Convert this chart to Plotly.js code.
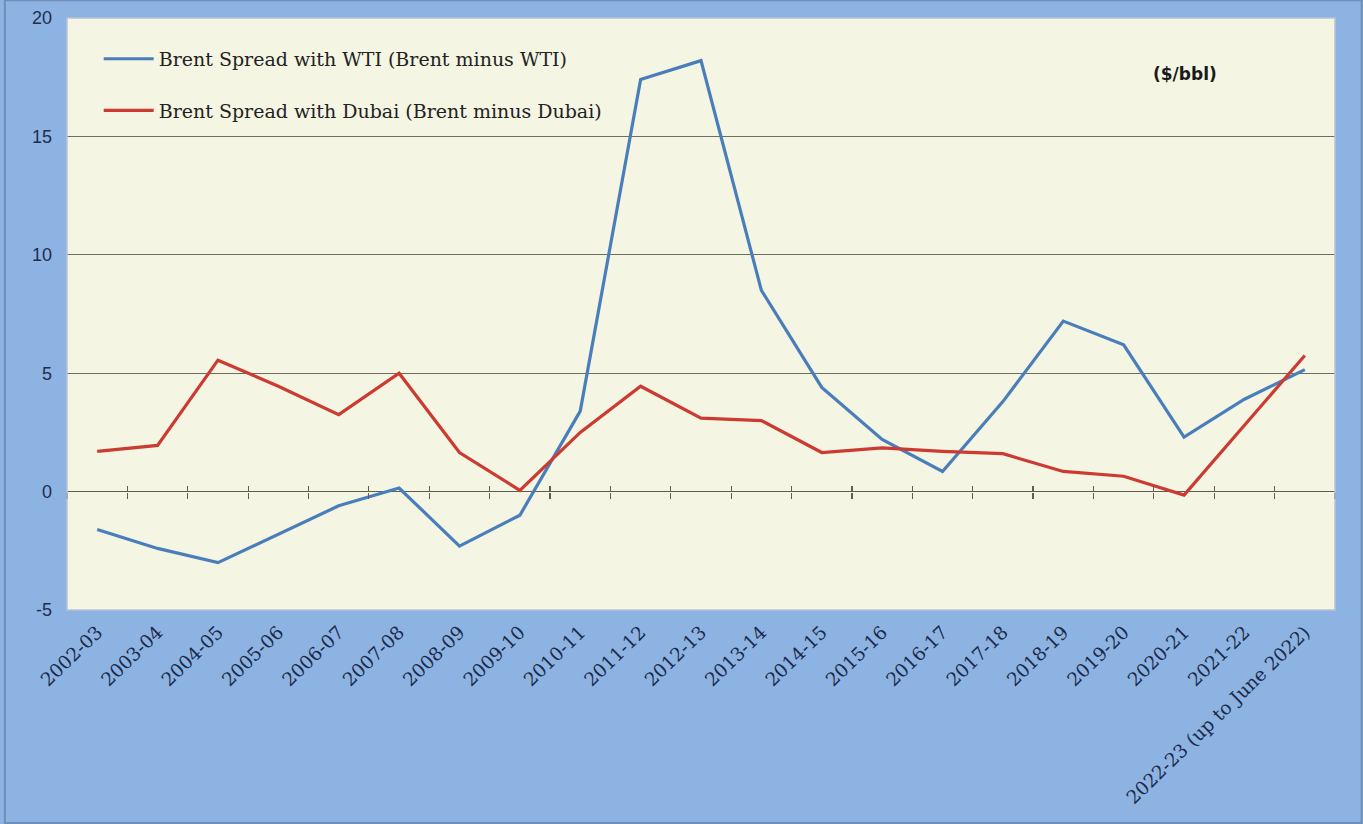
<!DOCTYPE html>
<html>
<head>
<meta charset="utf-8">
<script src="https://cdn.plot.ly/plotly-3.0.1.min.js"></script>
<style>html,body{margin:0;padding:0;background:#8DB3E2;}#chart{width:1363px;height:824px;}</style>
</head>
<body>
<div id="chart"></div>
<script>
const categories = ["2002-03","2003-04","2004-05","2005-06","2006-07","2007-08","2008-09","2009-10","2010-11","2011-12","2012-13","2013-14","2014-15","2015-16","2016-17","2017-18","2018-19","2019-20","2020-21","2021-22","2022-23 (up to June 2022)"];
const brentWti = [-1.6,-2.4,-3.0,-1.8,-0.6,0.15,-2.3,-1.0,3.4,17.4,18.2,8.5,4.4,2.2,0.85,3.8,7.2,6.2,2.3,3.9,5.15];
const brentDubai = [1.7,1.95,5.55,4.45,3.25,5.0,1.65,0.05,2.5,4.45,3.1,3.0,1.65,1.85,1.7,1.6,0.85,0.65,-0.15,2.8,5.75];
const yTicks = [-5,0,5,10,15,20];
const yTickText = ["-5","0","5","10","15","20"];

const serif = "'DejaVu Serif', 'Liberation Serif', serif";

const traces = [
  {x: categories, y: brentWti, type: 'scatter', mode: 'lines', name: 'Brent Spread with WTI (Brent minus WTI)',
   line: {color: '#4A7EBB', width: 3.2}, legendgroup: 'a'},
  {x: categories, y: brentDubai, type: 'scatter', mode: 'lines', name: 'Brent Spread with Dubai (Brent minus Dubai)',
   line: {color: '#CC3B32', width: 3.2}, legendgroup: 'b'},
  // invisible carriers so the tick-mark axes at y = 0 get drawn
  {x: categories, y: brentWti, xaxis: 'x2', type: 'scatter', mode: 'lines', opacity: 0, showlegend: false, hoverinfo: 'skip'},
  {x: categories, y: brentWti, xaxis: 'x3', type: 'scatter', mode: 'lines', opacity: 0, showlegend: false, hoverinfo: 'skip'}
];

const axTick = {
  type: 'category', range: [-0.5, categories.length-0.5], overlaying: 'x', anchor: 'free', position: 0.2,
  tickson: 'boundaries', showticklabels: false, showgrid: false, zeroline: false,
  ticklen: 6, tickwidth: 1.2, tickcolor: '#5E5E50', showline: false
};

const layout = {
  width: 1363, height: 824,
  margin: {l: 67, r: 28, t: 18, b: 214},
  paper_bgcolor: '#8DB3E2',
  plot_bgcolor: '#F4F5E2',
  showlegend: true,
  legend: {x: 0.025, y: 0.963, xanchor: 'left', yanchor: 'top', bgcolor: 'rgba(0,0,0,0)',
    font: {family: serif, size: 19, color: '#222'}, itemwidth: 50, tracegroupgap: 24, traceorder: 'grouped'},
  xaxis: {type: 'category', range: [-0.5, categories.length-0.5], tickangle: -44, showgrid: false, zeroline: false,
    ticks: '', showline: false, ticklabelstandoff: 7, tickfont: {family: serif, size: 18.5, color: '#1B2A4A'}},
  xaxis2: Object.assign({}, axTick, {ticks: 'outside'}),
  xaxis3: Object.assign({}, axTick, {ticks: 'inside'}),
  yaxis: {range: [-5, 20], tickmode: 'array', tickvals: yTicks, ticktext: yTickText, showgrid: true, gridcolor: '#6E6E5E', gridwidth: 1,
    zeroline: true, zerolinecolor: '#5E5E50', zerolinewidth: 1.2, ticks: '', ticklabelstandoff: 14,
    tickfont: {family: "'Liberation Sans', Arial, sans-serif", size: 18, color: '#1F2D50'}, showline: false},
  shapes: [
    {type: 'rect', xref: 'paper', yref: 'paper', x0: 0, x1: 1, y0: 0, y1: 1, line: {color: '#B8C4D8', width: 1.5}, layer: 'above'},
    {type: 'rect', xref: 'paper', yref: 'paper', x0: -0.049, x1: 1.021, y0: -0.36, y1: 1.03, line: {color: '#6F8FB8', width: 2}, layer: 'below'}
  ],
  annotations: [
    {xref: 'paper', yref: 'paper', x: 0.882, y: 0.905, xanchor: 'center', yanchor: 'middle', showarrow: false,
     text: '<b>($/bbl)</b>', font: {family: "'DejaVu Sans', sans-serif", size: 17, color: '#1a1a1a'}}
  ]
};

Plotly.newPlot('chart', traces, layout, {displayModeBar: false, staticPlot: true});
</script>
</body>
</html>
